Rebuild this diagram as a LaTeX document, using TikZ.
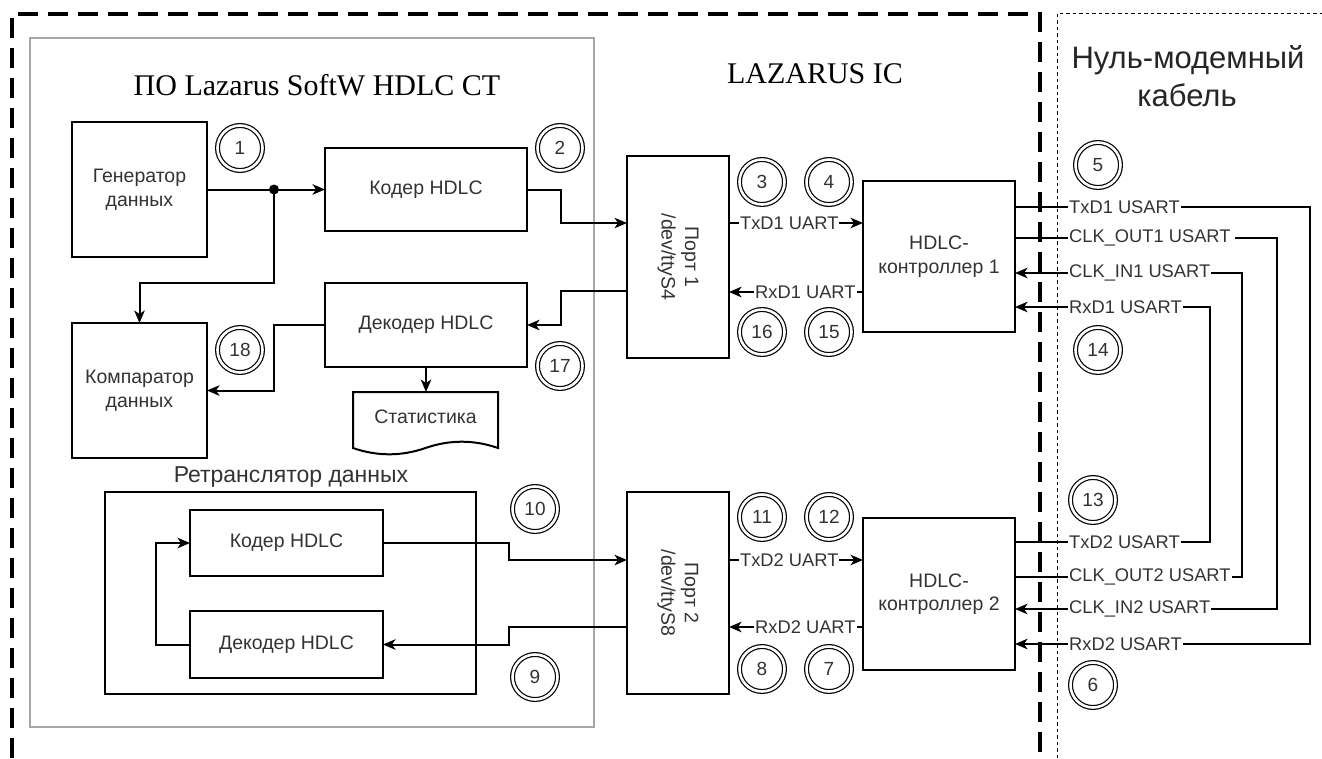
\documentclass[tikz,border=0pt]{standalone}
\usepackage{fontspec}
\setmainfont{Liberation Serif}
\newfontfamily\sansLS{Liberation Sans}
\usetikzlibrary{arrows.meta}
\newcommand\fBox{\sansLS\fontsize{19.5}{23.5}\selectfont}
\newcommand\fLbl{\sansLS\fontsize{18.3}{22}\selectfont}
\newcommand\fNum{\sansLS\fontsize{19}{22}\selectfont}
\newcommand\fTitle{\fontsize{30}{36}\selectfont}
\newcommand\fRet{\sansLS\fontsize{23}{27}\selectfont}
\newcommand\fNul{\sansLS\fontsize{31}{38}\selectfont}
\begin{document}
\begin{tikzpicture}[x=1pt,y=-1pt,
  box/.style={draw, line width=2pt, font=\fBox, text=black!80, align=center, inner sep=0pt, outer sep=0pt},
  arr/.style={line width=2pt, -{Stealth[length=12.5pt,width=10.5pt,inset=3.5pt]}},
  lbl/.style={fill=white, inner sep=1pt, font=\fLbl, text=black!80},
  num/.style={circle, draw, double, double distance=2.6pt, line width=1.2pt, minimum size=45pt, inner sep=0pt, font=\fNum, text=black!80}]
\useasboundingbox (0,0) rectangle (1322,758);
\fill[white] (0,0) rectangle (1322,758);

% frames
\draw[line width=4.5pt, dash pattern=on 20pt off 10pt] (12,758) -- (12,14) -- (1040,14) -- (1040,758);
\draw[line width=1pt, dash pattern=on 3.5pt off 3pt] (1057,758) -- (1057,13) -- (1322,13);
\draw[gray!70, line width=1.3pt] (30,38) rectangle (594,727);

% titles
\node[font=\fTitle, anchor=base, inner sep=0pt] (t1) at (317,95) {ПО Lazarus SoftW HDLC CT};
\node[font=\fTitle, anchor=base, inner sep=0pt] (t2) at (815,83) {LAZARUS IC};
\node[font=\fNul, anchor=base, inner sep=0pt, text=black!85] (t3) at (1188,68) {Нуль-модемный};
\node[font=\fNul, anchor=base, inner sep=0pt, text=black!85] (t4) at (1187,106) {кабель};

% software blocks
\node[box, minimum width=135, minimum height=135] (gen) at (139.5,189.5) {Генератор\\данных};
\node[box, minimum width=202, minimum height=83] (enc1) at (426,189.5) {Кодер HDLC};
\node[box, minimum width=202, minimum height=84] (dec1) at (426,325) {Декодер HDLC};
\node[box, minimum width=135, minimum height=135] (cmp) at (139.5,390.5) {Компаратор\\данных};

\node[minimum width=145, minimum height=63, inner sep=0pt, outer sep=0pt, anchor=north west] (stat) at (353,392) {};
\draw[line width=2pt] (stat.north west) -- (stat.north east) -- (498,448)
  .. controls (473.8,439.6) and (449.7,439.6) .. (425.5,448)
  .. controls (401.3,456.4) and (377.2,456.4) .. (353,448) -- cycle;
\node[font=\fBox, text=black!80] (stt) at (425.5,417) {Статистика};

\node[draw, line width=2pt, minimum width=371, minimum height=202, inner sep=0pt] (retr) at (290.5,593) {};
\node[font=\fRet, text=black!80, anchor=base] (rett) at (291,482) {Ретранслятор данных};
\node[box, minimum width=193, minimum height=66] (enc2) at (286.5,543) {Кодер HDLC};
\node[box, minimum width=193, minimum height=67] (dec2) at (286.5,644.5) {Декодер HDLC};

% ports
\node[box, minimum width=102, minimum height=202] (p1) at (678,257) {};
\node[font=\fBox, text=black!80, rotate=-90, align=center] (p1t) at (p1.center) {Порт 1\\/dev/ttyS4};
\node[box, minimum width=102, minimum height=202] (p2) at (678,593) {};
\node[font=\fBox, text=black!80, rotate=-90, align=center] (p2t) at (p2.center) {Порт 2\\/dev/ttyS8};

% HDLC controllers
\node[box, minimum width=152, minimum height=151] (h1) at (939,256.5) {HDLC-\\контроллер 1};
\node[box, minimum width=152, minimum height=152] (h2) at (939,594) {HDLC-\\контроллер 2};

% software connectors
\coordinate (j) at (274,189.5);
\coordinate (jb) at (274,283);
\draw[arr] (gen) -- (enc1);
\draw[arr] (j) -- (jb) -| (cmp.north);
\fill (j) circle (5pt);

\coordinate (x1) at (561,0);
\coordinate (p1tx) at ([yshift=34pt]p1.west);
\coordinate (p1rx) at ([yshift=-34pt]p1.west);
\draw[arr] (enc1.east) -- (enc1.east -| x1) |- (p1tx);
\draw[arr] (p1rx) -- (p1rx -| x1) |- (dec1.east);
\coordinate (x2) at (274,0);
\draw[arr] (dec1.west) -- (dec1.west -| x2) |- (cmp.east);
\draw[arr] (dec1.south) -- (dec1.south |- stat.north);

\coordinate (x3) at (509,0);
\coordinate (p2tx) at ([yshift=33pt]p2.west);
\coordinate (p2rx) at ([yshift=-34pt]p2.west);
\draw[arr] (enc2.east) -- (enc2.east -| x3) |- (p2tx);
\draw[arr] (p2rx) -- (p2rx -| x3) |- (dec2.east);
\coordinate (x4) at (156,0);
\draw[arr] (dec2.west) -- (dec2.west -| x4) |- (enc2.west);

% UART links
\coordinate (a1) at ([yshift=34pt]p1.east);
\coordinate (b1) at ([yshift=-35pt]p1.east);
\coordinate (a2) at ([yshift=33pt]p2.east);
\coordinate (b2) at ([yshift=-34pt]p2.east);
\draw[arr] (a1) -- (a1 -| h1.west) node[lbl, pos=0.45] {TxD1 UART};
\draw[arr] (b1 -| h1.west) -- (b1) node[lbl, pos=0.43] {RxD1 UART};
\draw[arr] (a2) -- (a2 -| h2.west) node[lbl, pos=0.45] {TxD2 UART};
\draw[arr] (b2 -| h2.west) -- (b2) node[lbl, pos=0.43] {RxD2 UART};

% null-modem wiring
\coordinate (r1) at ([yshift=49.5pt]h1.east);
\coordinate (r2) at ([yshift=18.5pt]h1.east);
\coordinate (r3) at ([yshift=-16.5pt]h1.east);
\coordinate (r4) at ([yshift=-50.5pt]h1.east);
\coordinate (s1) at ([yshift=52pt]h2.east);
\coordinate (s2) at ([yshift=17pt]h2.east);
\coordinate (s3) at ([yshift=-15pt]h2.east);
\coordinate (s4) at ([yshift=-50pt]h2.east);
\coordinate (xa) at (1310,0);
\coordinate (xb) at (1277,0);
\coordinate (xc) at (1242,0);
\coordinate (xd) at (1210,0);
\draw[arr] (r1) -- (r1 -| xa) |- (s4);
\draw[arr] (r2) -- (r2 -| xb) |- (s3);
\draw[arr] (s2) -- (s2 -| xc) |- (r3);
\draw[arr] (s1) -- (s1 -| xd) |- (r4);
\coordinate (lx) at (1068,0);
\node[lbl, anchor=west] (l1) at (r1 -| lx) {TxD1 USART};
\node[lbl, anchor=west] (l2) at (r2 -| lx) {CLK\_OUT1 USART\,};
\node[lbl, anchor=west] (l3) at (r3 -| lx) {CLK\_IN1 USART};
\node[lbl, anchor=west] (l4) at (r4 -| lx) {RxD1 USART};
\node[lbl, anchor=west] (l5) at (s1 -| lx) {TxD2 USART};
\node[lbl, anchor=west] (l6) at (s2 -| lx) {CLK\_OUT2 USART};
\node[lbl, anchor=west] (l7) at (s3 -| lx) {CLK\_IN2 USART};
\node[lbl, anchor=west] (l8) at (s4 -| lx) {RxD2 USART};

% numbered markers
\node[num] (n1) at (240,148) {1};
\node[num] (n2) at (560,148) {2};
\node[num] (n3) at (762,182) {3};
\node[num] (n4) at (829,182) {4};
\node[num] (n5) at (1098,165) {5};
\node[num] (n6) at (1093,685) {6};
\node[num] (n7) at (829,669) {7};
\node[num] (n8) at (762,669) {8};
\node[num] (n9) at (535,677) {9};
\node[num] (n10) at (535,509) {10};
\node[num] (n11) at (762,517) {11};
\node[num] (n12) at (829,517) {12};
\node[num] (n13) at (1093,500) {13};
\node[num] (n14) at (1098,350) {14};
\node[num] (n15) at (829,332) {15};
\node[num] (n16) at (762,332) {16};
\node[num] (n17) at (560,366) {17};
\node[num] (n18) at (240,350) {18};
\end{tikzpicture}
\end{document}
